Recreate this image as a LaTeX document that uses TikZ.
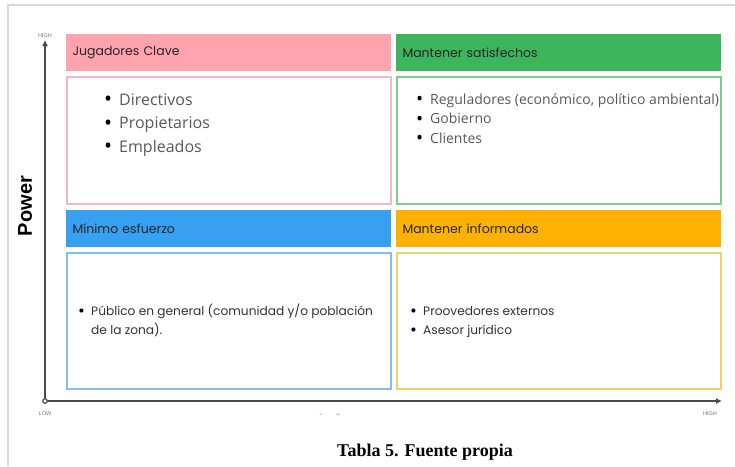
\documentclass[tikz,border=0pt]{standalone}
\usepackage{fontspec}
\setmainfont{Liberation Serif}
\newfontfamily\hdfont{Poppins}
\newfontfamily\lstfont{Open Sans}
\newfontfamily\axfont{Liberation Sans}
\usetikzlibrary{arrows.meta}

\definecolor{kpink}{HTML}{FFA3AE}
\definecolor{kgreen}{HTML}{3DB55D}
\definecolor{kblue}{HTML}{38A0F0}
\definecolor{korange}{HTML}{FDB100}
\definecolor{bpink}{HTML}{F4B8C0}
\definecolor{bgreen}{HTML}{80CB92}
\definecolor{bblue}{HTML}{80C0EE}
\definecolor{byellow}{HTML}{F2D06E}
\definecolor{axgray}{HTML}{4A4A4A}

\newcommand{\itm}[2][15pt]{\makebox[#1][l]{\color{black}\raisebox{-0.11em}{\scalebox{1.35}{\textbullet}}}#2}

\tikzset{
  hdbox/.style={fill=#1, draw=white, line width=1pt, anchor=north west,
    minimum width=326pt, minimum height=38pt, text width=312pt,
    inner xsep=7pt, inner ysep=0pt, align=left,
    font=\hdfont\fontsize{12.5}{14}\selectfont, text=black!85},
  bdbox/.style={draw=#1, line width=1.5pt, fill=white, anchor=north west,
    minimum width=324pt, inner sep=0pt},
  biglst/.style={anchor=base west, inner sep=0pt, text=black!65,
    font=\lstfont\fontsize{16}{18}\selectfont},
  midlst/.style={anchor=base west, inner sep=0pt, text=black!65,
    font=\lstfont\fontsize{14}{16}\selectfont},
  smllst/.style={anchor=base west, inner sep=0pt, text=black!80,
    font=\hdfont\fontsize{12.2}{14}\selectfont},
  axlbl/.style={inner sep=0pt, text=black!55, font=\axfont\fontsize{5.5}{6}\selectfont}
}

\begin{document}
\begin{tikzpicture}[x=1pt,y=-1pt]
      \useasboundingbox (0,0) rectangle (735,466);
      % page edge
      \draw[black!15, line width=1.5pt] (8,466) -- (8,5) -- (735,5);

      % headers
      \node (hkey) [hdbox=kpink] at (65,33) {Jugadores Clave};
      \node (hsat) [hdbox=kgreen] at (395,33) {Mantener satisfechos};
      \node (hmin) [hdbox=kblue] at (65,209) {Mínimo esfuerzo};
      \node (hinf) [hdbox=korange] at (395,209) {Mantener informados};

      % boxes
      \node (bkey) [bdbox=bpink, minimum height=127pt] at (66,76) {};
      \node (bsat) [bdbox=bgreen, minimum height=127pt] at (396,76) {};
      \node (bmin) [bdbox=bblue, minimum height=136pt] at (66,252) {};
      \node (binf) [bdbox=byellow, minimum height=136pt] at (396,252) {};

      % lists
      \node (k1) [biglst] at (104,105) {\itm{Directivos}};
      \node (k2) [biglst] at (104,128.5) {\itm{Propietarios}};
      \node (k3) [biglst] at (104,152) {\itm{Empleados}};

      \node (s1) [midlst] at (416,104) {\itm[14pt]{Reguladores (económico, político ambiental)}};
      \node (s2) [midlst] at (416,123.5) {\itm[14pt]{Gobierno}};
      \node (s3) [midlst] at (416,143) {\itm[14pt]{Clientes}};

      \node (m1) [smllst] at (78,315) {\itm[13pt]{Público en general (comunidad y/o población}};
      \node (m2) [smllst] at (91,334) {de la zona).};

      \node (i1) [smllst] at (410,315) {\itm[13pt]{Proovedores externos}};
      \node (i2) [smllst] at (410,334) {\itm[13pt]{Asesor jurídico}};

      % axes
      \coordinate (org) at (45,401);
      \coordinate (ytop) at (45,40);
      \coordinate (xend) at (722,401);
      \draw[axgray, line width=2pt, -{Latex[length=6pt,width=6pt]}] (org) -- (ytop);
      \draw[axgray, line width=2pt, -{Latex[length=6pt,width=6pt]}] (org) -- (xend);
      \draw[axgray, line width=1.2pt, fill=white] (org) circle (2.3pt);

      \node (yhigh) [axlbl] at (45,36) {HIGH};
      \node (ylow) [axlbl] at (45,414) {LOW};
      \node (xhigh) [axlbl] at (710,414) {HIGH};
      \node (pwr) [rotate=90, inner sep=0pt, font=\axfont\bfseries\fontsize{20}{22}\selectfont] at (25,206) {Power};
      \node (cut) [inner sep=0pt, text=black!60, font=\axfont\fontsize{7}{8}\selectfont] at (330,415) {\mbox{-}\hspace{14pt}\mbox{-}\mbox{-}};

      % caption
      \node (cap) [inner sep=0pt, font=\bfseries\fontsize{18}{20}\selectfont] at (425,452) {Tabla 5. Fuente propia};
\end{tikzpicture}
\end{document}
